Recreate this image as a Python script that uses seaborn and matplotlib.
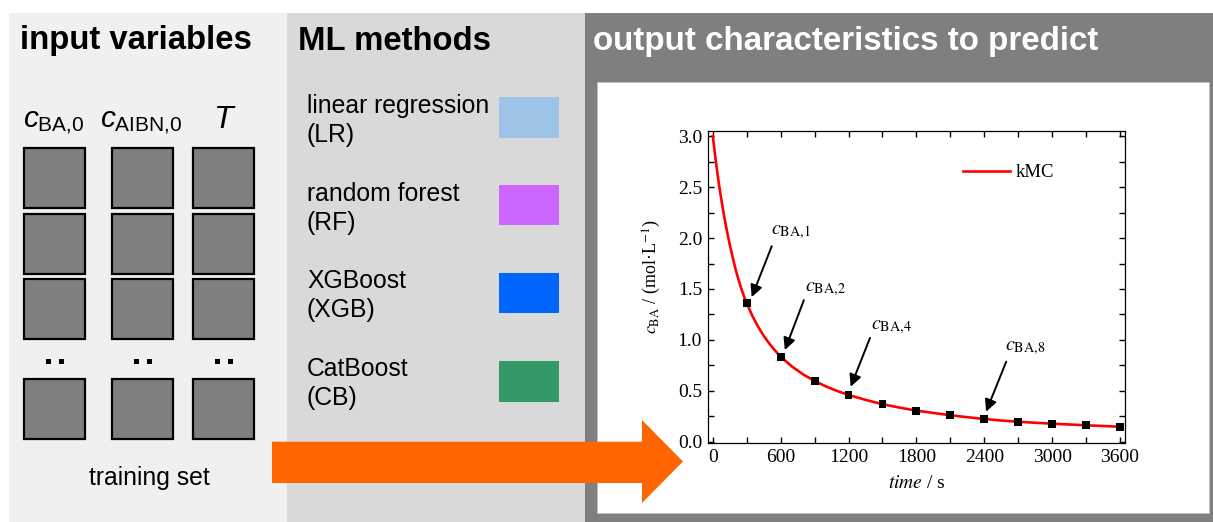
import matplotlib
matplotlib.use("Agg")
import matplotlib.pyplot as plt
from matplotlib.patches import Rectangle, Polygon
from matplotlib.ticker import MultipleLocator
import seaborn as sns
import pandas as pd

# ---------------- data ----------------
time_curve = [0, 25, 50, 75, 100, 125, 150, 175, 200, 225, 250, 275, 300,
              350, 400, 450, 500, 550, 600, 700, 800, 900, 1000, 1100, 1200,
              1350, 1500, 1650, 1800, 1950, 2100, 2250, 2400, 2550, 2700,
              2850, 3000, 3150, 3300, 3450, 3600]
c_curve = [3.00, 2.77, 2.56, 2.38, 2.215, 2.07, 1.935, 1.815, 1.70, 1.60, 1.51,
           1.43, 1.36, 1.235, 1.13, 1.04, 0.963, 0.895, 0.835, 0.738, 0.66,
           0.596, 0.543, 0.498, 0.459, 0.411, 0.368, 0.335, 0.305, 0.282,
           0.26, 0.2405, 0.223, 0.208, 0.196, 0.186, 0.177, 0.169, 0.161,
           0.154, 0.147]
sample_time = [300, 600, 900, 1200, 1500, 1800, 2100, 2400, 2700, 3000, 3300, 3600]
sample_c = [1.36, 0.835, 0.596, 0.459, 0.368, 0.305, 0.26, 0.223, 0.196, 0.177,
            0.161, 0.147]

ann_labels = [r'$c_{\mathrm{BA{,}1}}$', r'$c_{\mathrm{BA{,}2}}$',
              r'$c_{\mathrm{BA{,}4}}$', r'$c_{\mathrm{BA{,}8}}$']
ann_tip_t = [344, 637, 1219, 2416]
ann_tip_c = [1.42, 0.90, 0.54, 0.295]
ann_tail_t = [521, 805, 1390, 2594]
ann_tail_c = [1.92, 1.39, 1.02, 0.786]
ann_text_t = [516, 815, 1396, 2583]
ann_text_c = [2.06, 1.50, 1.13, 0.93]

x_ticks = [0, 600, 1200, 1800, 2400, 3000, 3600]
y_ticks = [0.0, 0.5, 1.0, 1.5, 2.0, 2.5, 3.0]

input_labels = [r'$c_{\mathrm{BA{,}0}}$', r'$c_{\mathrm{AIBN{,}0}}$', r'$T$']
methods = ['linear regression\n(LR)', 'random forest\n(RF)', 'XGBoost\n(XGB)', 'CatBoost\n(CB)']
method_colors = ['#9dc3e6', '#cc66ff', '#0066ff', '#339966']

# ---------------- style ----------------
plt.rcParams['font.family'] = ['Liberation Sans', 'DejaVu Sans']
plt.rcParams['mathtext.fontset'] = 'custom'
plt.rcParams['mathtext.rm'] = 'Liberation Sans'
plt.rcParams['mathtext.it'] = 'Liberation Sans:italic'
plt.rcParams['mathtext.bf'] = 'Liberation Sans:bold'

W, H = 1213, 522
fig = plt.figure(figsize=(W / 100, H / 100), dpi=100)

# background / layout axes in pixel coordinates
bg = fig.add_axes([0, 0, 1, 1])
bg.set_xlim(0, W)
bg.set_ylim(H, 0)
bg.axis('off')

bg.add_patch(Rectangle((9, 13), 278, 509, facecolor='#f0f0f0', edgecolor='none'))
bg.add_patch(Rectangle((287, 13), 298, 509, facecolor='#d9d9d9', edgecolor='none'))
bg.add_patch(Rectangle((585, 13), 628, 509, facecolor='#7f7f7f', edgecolor='none'))
bg.add_patch(Rectangle((597, 81.5), 612, 431.5, facecolor='white', edgecolor='#bfbfbf', lw=0.6))

bg.text(20, 49, 'input variables', fontsize=23.7, fontweight='bold', va='baseline', ha='left')
bg.text(297.5, 50, 'ML methods', fontsize=23.7, fontweight='bold', va='baseline', ha='left')
bg.text(593, 50, 'output characteristics to predict', fontsize=23.9, fontweight='bold',
        color='white', va='baseline', ha='left')

# input variable labels and grid of squares
col_left = [24, 112, 193]
row_top = [148, 213.5, 279, 379]
label_x = [23, 100, 225]
label_size = [21.5, 21.5, 23]
for i, lab in enumerate(input_labels):
    bg.text(label_x[i], 127.5, lab, fontsize=label_size[i], va='baseline',
            ha='center' if lab == r'$T$' else 'left')
    for rt in row_top:
        bg.add_patch(Rectangle((col_left[i], rt), 61, 60, facecolor='#7f7f7f',
                               edgecolor='black', lw=1.6))
    for dx in (22, 35):
        bg.add_patch(Rectangle((col_left[i] + dx, 359), 4.5, 4.5, facecolor='black',
                               edgecolor='none'))
bg.text(149.5, 485, 'training set', fontsize=17.8, ha='center', va='baseline')

# ML methods
m_base = [112, 200, 287, 375]
sw_top = [97, 184.5, 272.5, 361]
for i, m in enumerate(methods):
    bg.text(307, m_base[i] + 30, m, fontsize=17.8, ha='left', va='baseline', linespacing=1.25)
    bg.add_patch(Rectangle((499, sw_top[i]), 60, 40.5, facecolor=method_colors[i],
                           edgecolor='none'))

# orange arrow
bg.add_patch(Polygon([(272, 441.7), (642, 441.7), (642, 420), (683, 461.5),
                      (642, 503), (642, 483), (272, 483)], closed=True,
                     facecolor='#ff6600', edgecolor='none'))

# ---------------- chart ----------------
ax_l, ax_r, ax_t, ax_b = 708.3, 1125, 131, 442.5
ax = fig.add_axes([ax_l / W, (H - ax_b) / H, (ax_r - ax_l) / W, (ax_b - ax_t) / H])
ax.patch.set_alpha(0)

curve_df = pd.DataFrame({'time': time_curve, 'c': c_curve})
samp_df = pd.DataFrame({'time': sample_time, 'c': sample_c})
sns.lineplot(data=curve_df, x='time', y='c', ax=ax, color='#ff0000', lw=1.9,
             label='kMC', sort=True, estimator=None)
sns.scatterplot(data=samp_df, x='time', y='c', ax=ax, marker='s', s=32,
                color='black', edgecolor='none', legend=False, zorder=5)

for lab, tt, tc, at, ac, xt, xc in zip(ann_labels, ann_tip_t, ann_tip_c, ann_tail_t,
                                        ann_tail_c, ann_text_t, ann_text_c):
    ax.annotate('', xy=(tt, tc), xytext=(at, ac),
                arrowprops=dict(arrowstyle='-|>', color='black', lw=1.4,
                                mutation_scale=18, shrinkA=0, shrinkB=0))
    ax.text(xt, xc, lab, fontsize=14.5, ha='left', va='center', math_fontfamily='stix',
            family='Liberation Serif')

ax.set_xlim(-39.8, 3644)
ax.set_ylim(-0.008, 3.052)
ax.set_xticks(x_ticks)
ax.set_yticks(y_ticks)
ax.set_xticklabels([str(v) for v in x_ticks])
ax.set_yticklabels([f'{v:.1f}' for v in y_ticks])
ax.xaxis.set_minor_locator(MultipleLocator(300))
ax.yaxis.set_minor_locator(MultipleLocator(0.25))
ax.tick_params(which='both', direction='in', top=True, right=True, length=4,
               width=1, color='black')
ax.tick_params(axis='x', which='major', pad=5)
ax.tick_params(axis='y', which='major', pad=4.5)
for lbl in ax.get_xticklabels() + ax.get_yticklabels():
    lbl.set_family('Liberation Serif')
    lbl.set_fontsize(14)
for sp in ax.spines.values():
    sp.set_linewidth(0.9)
    sp.set_color('black')

ax.set_xlabel(r'$time$ / s', fontsize=14, family='Liberation Serif',
              math_fontfamily='stix', labelpad=6)
ax.set_ylabel(r'$c_{\mathrm{BA}}$ / (mol·L$^{\mathrm{-1}}$)', fontsize=13,
              family='Liberation Serif', math_fontfamily='stix')
ax.yaxis.set_label_coords((663 - ax_l) / (ax_r - ax_l), (ax_b - 277) / (ax_b - ax_t))

leg = ax.legend(loc='center left', bbox_to_anchor=(0.6105, 0.866), frameon=False,
                borderpad=0, borderaxespad=0, handlelength=2.5, handletextpad=0.3,
                prop={'family': 'Liberation Serif', 'size': 13.5})

fig.savefig('out.png', dpi=100)
